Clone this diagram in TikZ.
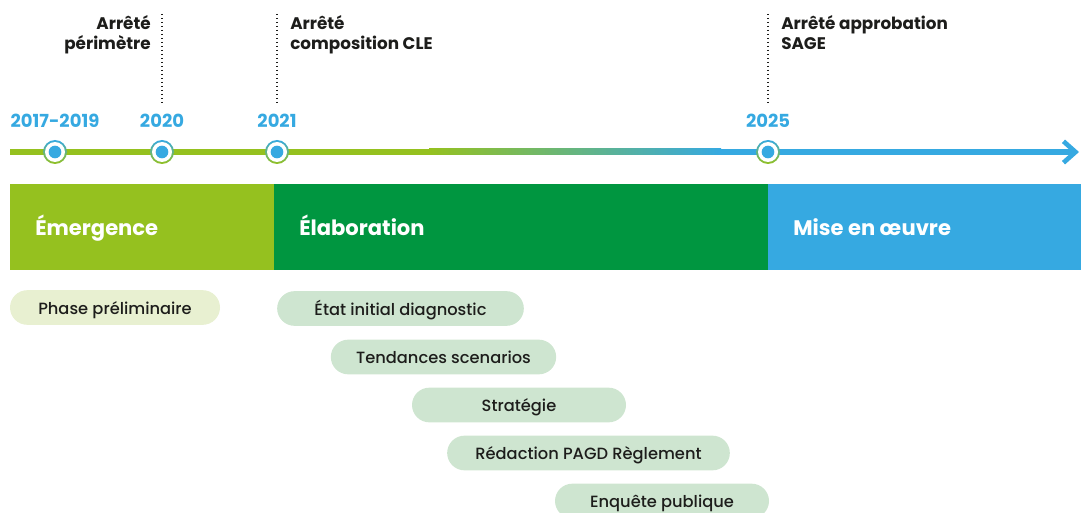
\documentclass[tikz,border=0pt]{standalone}
\usepackage{fontspec}
\setmainfont{Poppins}
\newfontfamily\pillfont{Poppins}[UprightFont=* Medium]
\usetikzlibrary{arrows.meta}
\definecolor{lgreen}{HTML}{95C11F}
\definecolor{dgreen}{HTML}{009640}
\definecolor{tblue}{HTML}{36A9E1}
\definecolor{pillA}{HTML}{E8F0D1}
\definecolor{pillB}{HTML}{CEE5D0}
\definecolor{txt}{HTML}{1D1D1B}
\tikzset{
  px/.style={x=0.75pt,y=-0.75pt},
  year/.style={font=\fontsize{13.5}{15}\selectfont\bfseries, text=tblue, inner sep=0pt},
  milestone/.style={font=\fontsize{12.6}{15}\selectfont\bfseries, text=txt, inner sep=0pt, align=left},
  phase/.style={font=\fontsize{15.8}{18}\selectfont\bfseries, text=white, inner sep=0pt, anchor=base west},
  pill/.style={rounded corners=13pt, minimum height=26pt, inner sep=0pt, text height=12pt, text depth=2.2pt, text=txt, font=\pillfont\fontsize{12.2}{14}\selectfont},
  dotline/.style={line width=1.3pt, dash pattern=on 1pt off 2pt, txt},
  ring/.style={circle, minimum size=18pt, inner sep=0pt, shading angle=45, top color=tblue, bottom color=lgreen},
}
\begin{document}
\begin{tikzpicture}[px]
\useasboundingbox (0,0) rectangle (1081,513);
% phase bars
\fill[lgreen] (10,184) rectangle (274,270);
\fill[dgreen] (274,184) rectangle (768,270);
\fill[tblue] (768,184) rectangle (1081,270);
\node[phase] (p1) at (35,236) {Émergence};
\node[phase] (p2) at (299,236) {Élaboration};
\node[phase] (p3) at (793,236) {Mise en œuvre};
% timeline
\coordinate (ts) at (10,152);
\coordinate (tg) at (430,152);
\coordinate (tb) at (720,152);
\coordinate (te) at (1079,152);
\draw[lgreen, line width=4.5pt] (ts) -- (tg);
\shade[left color=lgreen, right color=tblue] (429,149) rectangle (721,155);
\draw[tblue, line width=4.5pt, -{Straight Barb[length=9pt,width=16pt,line width=3.5pt]}] (tb) -- (te);
% dots
\foreach \n/\x in {d1/55, d2/162, d3/277, d4/768}{
  \node[ring] (\n) at (\x,152) {};
  \node[circle, fill=white, minimum size=15pt, inner sep=0pt] at (\n) {};
  \node[circle, fill=tblue, minimum size=9.5pt, inner sep=0pt] at (\n) {};
}
% years
\node[year] (y1) at (55,121) {2017-2019};
\node[year] (y2) at (162,121) {2020};
\node[year] (y3) at (277,121) {2021};
\node[year] (y4) at (768,121) {2025};
% dotted lines
\foreach \n/\x in {2/162, 3/277, 4/768}{
  \coordinate (top\n) at (\x,14);
  \coordinate (bot\n) at (\x,105);
  \draw[dotline] (top\n) -- (bot\n);
}
% milestones
\node[milestone, align=right, anchor=north east] (m1) at (151,15) {Arrêté\\périmètre};
\node[milestone, anchor=north west] (m2) at (290,15) {Arrêté\\composition CLE};
\node[milestone, anchor=north west] (m3) at (781,15) {Arrêté approbation\\SAGE};
% pills
\node[pill, fill=pillA, minimum width=157.5pt] (a) at (115,307.5) {Phase préliminaire};
\node[pill, fill=pillB, minimum width=185pt] (b) at (400.5,308.5) {État initial diagnostic};
\node[pill, fill=pillB, minimum width=169pt] (c) at (443.5,357) {Tendances scenarios};
\node[pill, fill=pillB, minimum width=160.5pt] (d) at (519,405) {Stratégie};
\node[pill, fill=pillB, minimum width=212pt] (e) at (588.5,453) {Rédaction PAGD Règlement};
\node[pill, fill=pillB, minimum width=160.5pt] (f) at (662,501) {Enquête publique};
\end{tikzpicture}
\end{document}
